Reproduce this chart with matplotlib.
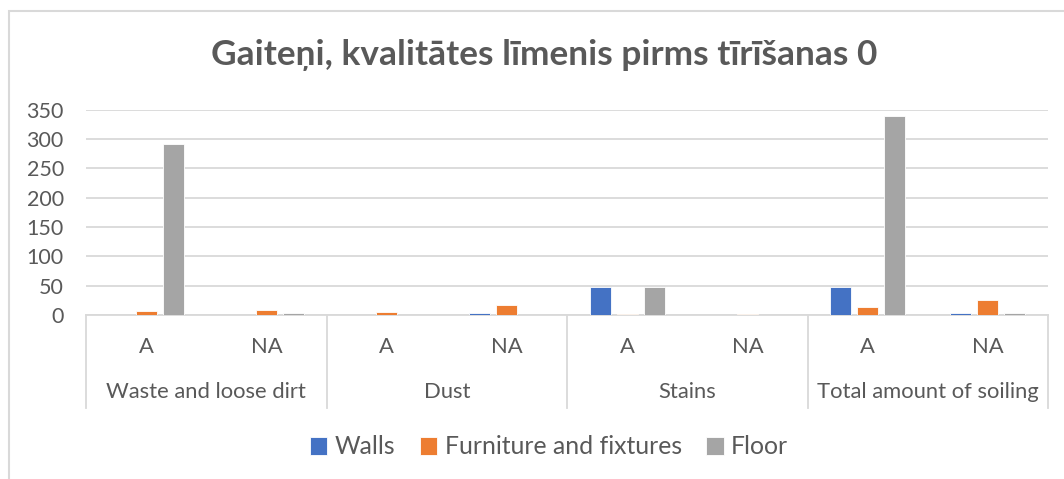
import numpy as np
import matplotlib.pyplot as plt
from matplotlib.patches import Rectangle
import matplotlib.transforms as mtransforms

# data
groups = ["Waste and loose dirt", "Dust", "Stains", "Total amount of soiling"]
subs = ["A", "NA"]
series = ["Walls", "Furniture and fixtures", "Floor"]
walls = [0, 0, 0, 3, 47, 0, 47, 3]
furniture = [7, 8, 5, 17, 1, 1, 13, 26]
floor = [292, 3, 0, 0, 47, 0, 339, 3]
colors = ["#4472C4", "#ED7D31", "#A5A5A5"]

txt = "#595959"
grid = "#D9D9D9"
plt.rcParams['font.family'] = ['Lato', 'DejaVu Sans']

fig = plt.figure(figsize=(10.64, 4.79), dpi=100)
W, H = 1064, 479
ax = fig.add_axes([86/W, 1-315/H, 962/W, 205.5/H])

x = np.arange(len(walls))
step = 0.225
bw = 0.175
for i, (vals, c, name) in enumerate(zip([walls, furniture, floor], colors, series)):
    ax.bar(x + (i-1)*step, vals, bw, color=c, label=name, zorder=3,
           edgecolor="white", linewidth=0.6)

ax.set_xlim(-0.5, 7.5)
ax.set_ylim(0, 350)
ax.set_yticks(np.arange(0, 351, 50))
ax.yaxis.grid(True, color=grid, linewidth=1.3, zorder=0)
ax.set_xticks([])
ax.tick_params(axis='y', length=0, pad=16, labelsize=15.5, labelcolor=txt)
for s in ['top', 'right', 'left']:
    ax.spines[s].set_visible(False)
ax.spines['bottom'].set_color(grid)
ax.spines['bottom'].set_linewidth(1.3)

# two level category axis
tr = mtransforms.blended_transform_factory(ax.transData, ax.transAxes)
for i in range(len(walls)):
    ax.text(i, -0.156, subs[i % 2], transform=tr, ha='center', va='center',
            fontsize=15.8, color=txt)
for g, name in enumerate(groups):
    ax.text(2*g + 0.5, -0.375, name, transform=tr, ha='center', va='center',
            fontsize=15.8, color=txt)
for b in [-0.5, 1.5, 3.5, 5.5, 7.5]:
    ax.plot([b, b], [0, -0.453], transform=tr, color=grid, linewidth=1.3,
            clip_on=False)

fig.suptitle("Gaiteņi, kvalitātes līmenis pirms tīrīšanas 0", x=544/W, y=1-55/H,
             va='center', fontsize=25.4, fontweight='bold', color=txt)

leg = fig.legend(loc='center', bbox_to_anchor=(549/W, 1-447/H), ncol=3,
                 frameon=False, fontsize=17.8, handlelength=0.7, handleheight=0.7,
                 handletextpad=0.3, columnspacing=1.0)
for t in leg.get_texts():
    t.set_color(txt)

# chart border
fig.patches.append(Rectangle((9/W, -0.1), 1.2, 1.1 - 11/H, transform=fig.transFigure,
                             fill=False, edgecolor=grid, linewidth=1.5))

fig.savefig("out.png", dpi=100)
